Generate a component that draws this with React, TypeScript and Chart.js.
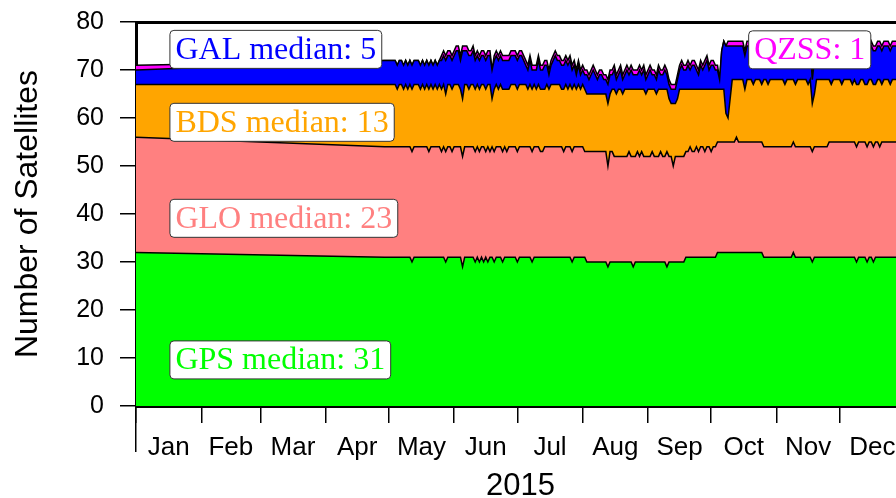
import React, { useEffect, useRef } from 'react';
import { Chart, registerables } from 'chart.js';

Chart.register(...registerables);

// Day of year 2015 (0 = Jan 1)
const dayOfYear = [
  0,
  118, 119, 120, 121, 122, 123, 124, 125, 126, 127,
  128, 129, 130, 131, 132, 133, 134, 135, 136, 137,
  138, 139, 140, 141, 142, 143, 144, 145, 146, 147,
  148, 149, 150, 151, 152, 153, 154, 155, 156, 157,
  158, 159, 160, 161, 162, 163, 164, 165, 166, 167,
  168, 169, 170, 171, 172, 173, 174, 175, 176, 177,
  178, 179, 180, 181, 182, 183, 184, 185, 186, 187,
  188, 189, 190, 191, 192, 193, 194, 195, 196, 197,
  198, 199, 200, 201, 202, 203, 204, 205, 206, 207,
  208, 209, 210, 211, 212, 213, 214, 215, 216, 217,
  218, 219, 220, 221, 222, 223, 224, 225, 226, 227,
  228, 229, 230, 231, 232, 233, 234, 235, 236, 237,
  238, 239, 240, 241, 242, 243, 244, 245, 246, 247,
  248, 249, 250, 251, 252, 253, 254, 255, 256, 257,
  258, 259, 260, 261, 262, 263, 264, 265, 266, 267,
  268, 269, 270, 271, 272, 273, 274, 275, 276, 277,
  278, 279, 280, 281, 282, 283, 284, 285, 286, 287,
  288, 289, 290, 291, 292, 293, 294, 295, 296, 297,
  298, 299, 300, 301, 302, 303, 304, 305, 306, 307,
  308, 309, 310, 311, 312, 313, 314, 315, 316, 317,
  318, 319, 320, 321, 322, 323, 324, 325, 326, 327,
  328, 329, 330, 331, 332, 333, 334, 335, 336, 337,
  338, 339, 340, 341, 342, 343, 344, 345, 346, 347,
  348, 349, 350, 351, 352, 353, 354, 355, 356, 357,
  358, 359, 360, 361, 362, 363, 364,
];

const gps = [
  32,
  31, 31, 31, 31, 31, 31, 31, 31, 31, 31,
  31, 31, 31, 30, 31, 31, 31, 31, 31, 31,
  31, 31, 31, 31, 31, 31, 31, 31, 31, 30,
  31, 31, 31, 31, 31, 31, 31, 29, 31, 31,
  31, 31, 31, 30, 31, 30, 31, 30, 31, 30,
  31, 31, 30, 31, 31, 31, 30, 31, 31, 31,
  31, 31, 31, 30, 31, 31, 31, 31, 31, 31,
  30, 31, 31, 31, 31, 31, 31, 31, 31, 31,
  31, 31, 31, 31, 31, 31, 31, 31, 31, 30,
  31, 31, 31, 31, 31, 31, 30, 30, 30, 30,
  30, 30, 30, 30, 30, 30, 29, 30, 30, 30,
  30, 30, 30, 30, 30, 30, 30, 30, 29, 30,
  30, 30, 30, 30, 30, 30, 30, 30, 30, 30,
  30, 30, 30, 30, 29, 30, 30, 30, 30, 30,
  30, 30, 30, 31, 31, 31, 31, 31, 31, 31,
  31, 31, 31, 31, 31, 31, 31, 31, 32, 32,
  32, 32, 32, 32, 32, 32, 32, 32, 32, 32,
  32, 32, 32, 32, 32, 32, 32, 32, 32, 32,
  31, 31, 31, 31, 31, 31, 31, 31, 31, 31,
  31, 31, 31, 31, 32, 31, 31, 31, 31, 31,
  31, 31, 31, 30, 31, 31, 31, 31, 31, 31,
  31, 31, 31, 31, 31, 31, 31, 31, 31, 31,
  31, 31, 31, 31, 30, 31, 31, 31, 31, 30,
  31, 31, 30, 31, 31, 31, 31, 31, 31, 31,
  31, 31, 31, 31, 31, 31, 31,
];

const glo = [
  24,
  23, 23, 23, 23, 23, 23, 23, 23, 23, 23,
  23, 23, 23, 23, 23, 23, 23, 23, 23, 23,
  23, 22, 23, 23, 23, 23, 23, 22, 23, 23,
  23, 23, 22, 23, 23, 23, 23, 23, 23, 23,
  23, 23, 23, 23, 23, 23, 23, 24, 22, 24,
  22, 23, 23, 23, 23, 23, 23, 23, 22, 23,
  23, 23, 23, 23, 23, 23, 23, 23, 23, 23,
  23, 23, 23, 23, 22, 22, 23, 23, 23, 23,
  23, 23, 23, 23, 23, 22, 23, 23, 23, 23,
  23, 23, 23, 23, 23, 22, 23, 23, 23, 23,
  23, 23, 23, 23, 23, 23, 21, 23, 23, 22,
  22, 22, 22, 22, 22, 22, 23, 22, 23, 22,
  23, 22, 23, 22, 22, 22, 22, 23, 22, 22,
  22, 23, 22, 22, 24, 22, 22, 20, 22, 22,
  22, 22, 22, 22, 22, 23, 22, 22, 23, 22,
  23, 23, 22, 23, 23, 22, 23, 23, 23, 23,
  23, 23, 23, 23, 23, 23, 23, 24, 23, 23,
  23, 23, 23, 23, 23, 23, 23, 23, 23, 23,
  23, 23, 23, 23, 23, 23, 23, 23, 23, 23,
  23, 23, 23, 23, 23, 23, 23, 23, 23, 23,
  23, 23, 23, 23, 23, 23, 23, 23, 23, 23,
  23, 24, 24, 24, 24, 24, 24, 24, 24, 24,
  24, 24, 24, 24, 24, 24, 24, 24, 24, 24,
  24, 24, 24, 24, 24, 23, 24, 24, 24, 24,
  24, 24, 24, 24, 24, 24, 24,
];

const bds = [
  11,
  13, 13, 13, 13, 13, 13, 12, 13, 13, 12,
  13, 12, 13, 13, 13, 13, 13, 12, 13, 12,
  13, 13, 13, 12, 13, 12, 13, 13, 13, 12,
  13, 13, 13, 13, 13, 13, 12, 12, 13, 13,
  12, 13, 13, 13, 13, 13, 13, 13, 13, 13,
  14, 10, 13, 13, 12, 13, 13, 12, 13, 12,
  13, 13, 13, 13, 13, 13, 13, 13, 12, 13,
  13, 13, 12, 13, 13, 13, 12, 13, 12, 13,
  13, 13, 13, 13, 12, 13, 13, 12, 13, 13,
  13, 12, 13, 12, 13, 13, 12, 12, 12, 12,
  12, 12, 12, 12, 12, 12, 13, 12, 13, 14,
  13, 14, 14, 13, 14, 14, 13, 14, 14, 14,
  13, 14, 13, 14, 13, 14, 14, 13, 14, 13,
  14, 13, 14, 14, 13, 12, 11, 13, 11, 12,
  14, 14, 14, 13, 13, 12, 13, 13, 12, 13,
  12, 12, 13, 12, 12, 13, 12, 12, 11, 11,
  11, 11, 6, 5, 9, 13, 13, 12, 13, 13,
  13, 11, 13, 13, 13, 12, 13, 13, 13, 12,
  14, 14, 13, 14, 14, 14, 14, 14, 14, 14,
  13, 14, 14, 14, 13, 13, 14, 14, 14, 14,
  14, 13, 14, 10, 11, 14, 14, 14, 14, 14,
  14, 13, 12, 13, 13, 13, 13, 12, 13, 13,
  13, 13, 12, 13, 13, 12, 13, 13, 12, 13,
  13, 13, 13, 12, 13, 14, 12, 13, 13, 13,
  12, 13, 13, 13, 13, 13, 13,
];

const gal = [
  3,
  5, 5, 5, 5, 5, 5, 5, 5, 5, 5,
  5, 5, 5, 5, 5, 5, 5, 5, 5, 5,
  5, 5, 5, 5, 5, 5, 5, 6, 6, 7,
  6, 6, 6, 6, 7, 7, 6, 10, 7, 7,
  7, 6, 7, 6, 6, 6, 6, 6, 6, 6,
  6, 6, 6, 6, 6, 6, 6, 6, 6, 6,
  6, 6, 6, 6, 6, 6, 5, 4, 4, 5,
  4, 3, 4, 5, 4, 4, 5, 4, 3, 4,
  5, 6, 5, 5, 5, 5, 5, 5, 5, 4,
  4, 3, 4, 3, 3, 3, 4, 3, 4, 5,
  4, 3, 4, 4, 3, 3, 4, 4, 3, 4,
  3, 3, 4, 3, 3, 4, 3, 4, 3, 3,
  3, 4, 3, 4, 3, 3, 4, 3, 3, 3,
  4, 3, 3, 4, 3, 3, 3, 3, 3, 4,
  4, 5, 4, 4, 5, 4, 5, 5, 4, 3,
  5, 4, 5, 6, 4, 5, 5, 4, 4, 2,
  8, 10, 14, 15, 11, 7, 7, 7, 7, 7,
  7, 7, 7, 7, 7, 7, 7, 7, 7, 7,
  7, 7, 7, 7, 7, 7, 7, 7, 7, 7,
  7, 7, 7, 7, 7, 7, 7, 7, 7, 7,
  7, 7, 7, 5, 7, 7, 7, 7, 7, 7,
  7, 7, 7, 7, 7, 7, 7, 7, 7, 7,
  7, 7, 7, 7, 7, 7, 7, 7, 7, 7,
  5, 7, 7, 7, 7, 7, 7, 7, 7, 7,
  7, 7, 7, 7, 7, 7, 7,
];

const qzss = [
  1,
  0, 0, 0, 0, 0, 0, 0, 0, 0, 0,
  0, 0, 0, 0, 0, 0, 0, 0, 0, 0,
  0, 0, 0, 0, 0, 0, 0, 1, 1, 1,
  1, 1, 1, 1, 1, 1, 1, 1, 1, 1,
  1, 1, 1, 1, 1, 1, 1, 1, 1, 1,
  1, 0, 1, 1, 1, 1, 1, 1, 1, 1,
  1, 1, 1, 1, 1, 1, 1, 1, 1, 1,
  1, 1, 1, 1, 1, 1, 1, 1, 1, 1,
  1, 1, 1, 1, 1, 1, 1, 1, 1, 1,
  1, 1, 1, 1, 1, 1, 1, 1, 1, 1,
  1, 1, 1, 1, 1, 1, 1, 1, 1, 1,
  1, 1, 1, 1, 1, 1, 1, 1, 1, 1,
  1, 1, 1, 1, 1, 1, 1, 1, 1, 1,
  1, 1, 1, 1, 1, 1, 1, 1, 1, 1,
  1, 1, 1, 1, 1, 1, 1, 1, 1, 1,
  1, 1, 1, 1, 1, 1, 1, 1, 1, 0,
  0, 0, 0, 1, 1, 1, 1, 1, 1, 1,
  1, 1, 1, 1, 1, 1, 1, 1, 1, 1,
  1, 1, 1, 1, 1, 1, 1, 1, 1, 1,
  1, 1, 1, 1, 1, 1, 1, 1, 1, 1,
  1, 1, 1, 1, 1, 1, 1, 1, 1, 1,
  1, 1, 1, 1, 1, 1, 1, 1, 1, 1,
  1, 1, 1, 1, 1, 1, 1, 1, 1, 1,
  1, 1, 1, 1, 1, 1, 1, 1, 1, 1,
  1, 1, 1, 1, 1, 1, 1,
];

const seriesNames = ['GPS', 'GLO', 'BDS', 'GAL', 'QZSS'];
const seriesValues = [gps, glo, bds, gal, qzss];
const seriesColors = ['#00ff00', '#ff8080', '#ffa500', '#0000ff', '#ff00ff'];

const monthStarts = [0, 31, 59, 90, 120, 151, 181, 212, 243, 273, 304, 334, 365];
const monthLabels = ['Jan', 'Feb', 'Mar', 'Apr', 'May', 'Jun', 'Jul', 'Aug', 'Sep', 'Oct', 'Nov', 'Dec'];
const yTicks = [0, 10, 20, 30, 40, 50, 60, 70, 80];

const labelTexts = ['GPS median: 31', 'GLO median: 23', 'BDS median: 13', 'GAL median: 5', 'QZSS: 1'];
const labelColors = ['#00ff00', '#ff8080', '#ffa500', '#0000ff', '#ff00ff'];
// anchor (left edge day, centre level) for each label box
const labelAnchorDay = [16.1, 16.1, 16.1, 16.1, 290.8];
const labelAnchorLevel = [9.6, 39.1, 59.1, 74.3, 74.2];

const SANS = '"Liberation Sans", Arial, Helvetica, sans-serif';
const SERIF = '"Liberation Serif", "Times New Roman", Times, serif';

const monthMids = monthLabels.map((_, i) => (monthStarts[i] + monthStarts[i + 1]) / 2);
const isBoundary = (v: number) => monthStarts.some((m) => Math.abs(m - v) < 1e-6);
const labelFor = (v: number) => {
  const i = monthMids.findIndex((m) => Math.abs(m - v) < 1e-6);
  return i >= 0 ? monthLabels[i] : '';
};

const boxPlugin = {
  id: 'medianBoxes',
  afterDatasetsDraw(chart: any) {
    const { ctx, scales } = chart;
    const x = scales.x;
    const y = scales.y;
    ctx.save();
    ctx.font = `32px ${SERIF}`;
    labelTexts.forEach((text, i) => {
      const w = ctx.measureText(text).width + 11;
      const h = 38;
      const left = x.getPixelForValue(labelAnchorDay[i]);
      const cy = y.getPixelForValue(labelAnchorLevel[i]);
      ctx.beginPath();
      if (ctx.roundRect) ctx.roundRect(left, cy - h / 2, w, h, 4);
      else ctx.rect(left, cy - h / 2, w, h);
      ctx.fillStyle = '#ffffff';
      ctx.fill();
      ctx.lineWidth = 1;
      ctx.strokeStyle = '#333333';
      ctx.stroke();
      ctx.fillStyle = labelColors[i];
      ctx.textAlign = 'left';
      ctx.textBaseline = 'middle';
      ctx.fillText(text, left + 5.5, cy + 1);
    });
    ctx.restore();
  },
};

export default function App() {
  const ref = useRef<HTMLCanvasElement>(null);

  useEffect(() => {
    if (!ref.current) return;
    const datasets = seriesNames.map((name, i) => ({
      label: name,
      data: dayOfYear.map((d, k) => ({ x: d, y: seriesValues[i][k] })),
      backgroundColor: seriesColors[i],
      borderColor: '#000000',
      borderWidth: 1.5,
      pointRadius: 0,
      tension: 0,
      fill: i === 0 ? 'origin' : '-1',
      xAxisID: 'x',
      yAxisID: 'y',
    }));

    const chart = new Chart(ref.current, {
      type: 'line',
      data: { datasets },
      plugins: [boxPlugin],
      options: {
        animation: false,
        responsive: false,
        events: [],
        layout: { padding: { left: 0, right: 15, top: 22, bottom: 0 } },
        plugins: {
          legend: { display: false },
          tooltip: { enabled: false },
          title: { display: false },
        },
        scales: {
          x: {
            type: 'linear',
            position: 'bottom',
            min: 0,
            max: 365,
            afterBuildTicks: (s: any) => {
              s.ticks = [...monthStarts, ...monthMids].sort((a, b) => a - b).map((v) => ({ value: v }));
            },
            afterFit: (s: any) => {
              s.height = 92;
              s.paddingLeft = 0;
              s.paddingRight = 0;
            },
            grid: {
              display: true,
              drawOnChartArea: false,
              drawTicks: true,
              tickLength: 17,
              lineWidth: 1.5,
              color: (c: any) => (c.tick && isBoundary(c.tick.value) ? '#000000' : 'rgba(0,0,0,0)'),
            },
            border: { display: true, color: '#000000', width: 3 },
            ticks: {
              autoSkip: false,
              maxRotation: 0,
              minRotation: 0,
              padding: 9,
              color: '#000000',
              font: { family: SANS, size: 26 },
              callback: (v: any) => labelFor(Number(v)),
            },
            title: {
              display: true,
              text: '2015',
              color: '#000000',
              font: { family: SANS, size: 31, lineHeight: 0.75 },
              padding: 0,
            },
          },
          xj: {
            type: 'linear',
            axis: 'x',
            position: { y: 0 },
            min: 0,
            max: 365,
            afterBuildTicks: (s: any) => {
              s.ticks = [{ value: monthStarts[0] }];
            },
            afterFit: (s: any) => {
              s.paddingLeft = 0;
              s.paddingRight = 0;
            },
            ticks: { display: false },
            grid: {
              display: true,
              drawOnChartArea: false,
              drawTicks: true,
              tickLength: 46,
              lineWidth: 1.5,
              color: '#000000',
            },
            border: { display: false },
          },
          xt: {
            type: 'linear',
            axis: 'x',
            position: 'top',
            min: 0,
            max: 365,
            afterFit: (s: any) => {
              s.height = 0;
              s.paddingLeft = 0;
              s.paddingRight = 0;
            },
            ticks: { display: false },
            grid: { display: true, drawOnChartArea: false, drawTicks: false },
            border: { display: true, color: '#000000', width: 3 },
          },
          y: {
            type: 'linear',
            position: 'left',
            stacked: true,
            min: 0,
            max: 80,
            afterBuildTicks: (s: any) => {
              s.ticks = yTicks.map((v) => ({ value: v }));
            },
            afterFit: (s: any) => {
              s.width = 136;
              s.paddingTop = 0;
              s.paddingBottom = 0;
            },
            ticks: {
              padding: 16,
              color: '#000000',
              font: { family: SANS, size: 25 },
            },
            grid: {
              display: true,
              drawOnChartArea: false,
              drawTicks: true,
              tickLength: 16,
              lineWidth: 1.5,
              color: '#000000',
            },
            border: { display: true, color: '#000000', width: 3 },
            title: {
              display: true,
              text: 'Number of Satellites',
              color: '#000000',
              font: { family: SANS, size: 32 },
              padding: { top: 9, bottom: 0 },
            },
          },
        },
      } as any,
    });
    return () => chart.destroy();
  }, []);

  return (
    <div
      style={{
        position: 'fixed',
        left: 0,
        top: 0,
        width: 896,
        height: 498,
        overflow: 'hidden',
        background: '#ffffff',
      }}
    >
      <canvas ref={ref} width={920} height={498} style={{ display: 'block', width: 920, height: 498 }} />
    </div>
  );
}
